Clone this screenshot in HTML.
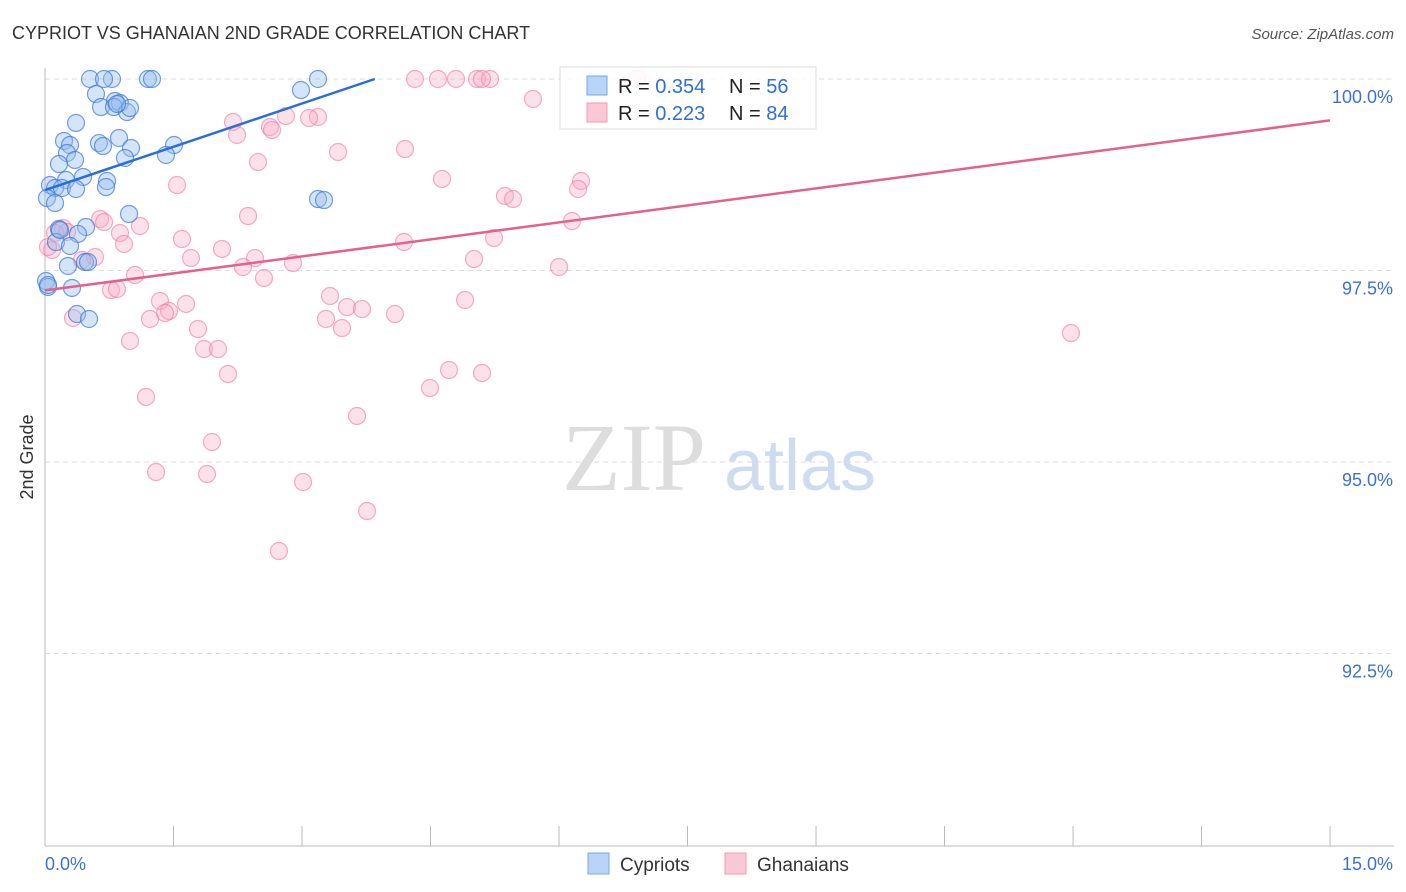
<!DOCTYPE html>
<html><head><meta charset="utf-8"><style>
body{margin:0;background:#fff;font-family:"Liberation Sans",sans-serif}
svg{display:block}
</style></head><body>
<svg id="c" width="1406" height="892">
<text x="12" y="39" font-size="18" fill="#333">CYPRIOT VS GHANAIAN 2ND GRADE CORRELATION CHART</text>
<text x="1394" y="39" font-size="15" fill="#555" font-style="italic" text-anchor="end">Source: ZipAtlas.com</text>
<text x="33" y="457" font-size="18" fill="#333" text-anchor="middle" transform="rotate(-90 33 457)">2nd Grade</text>
<g><text x="634" y="490" font-size="96" fill="#ddd" font-family="Liberation Serif,serif" text-anchor="middle">ZIP</text><text x="800" y="490" font-size="72" fill="#cfdcf0" text-anchor="middle">atlas</text></g>
<g id="grid"></g><g id="pts"></g><g id="lines"></g>
<g>
<rect x="560" y="67" width="256" height="62" fill="rgba(255,255,255,0.85)" stroke="#ddd"/>
<rect x="587" y="76" width="20" height="19" fill="#b8d4f6" stroke="#7aa8e6"/>
<rect x="587" y="103" width="20" height="19" fill="#fbc8d8" stroke="#f09ab6"/>
<text x="618" y="93" font-size="20" fill="#222">R = <tspan fill="#2f6fd6">0.354</tspan></text><text x="729" y="93" font-size="20" fill="#222">N = <tspan fill="#2f6fd6">56</tspan></text>
<text x="618" y="120" font-size="20" fill="#222">R = <tspan fill="#2f6fd6"> 0.223</tspan></text><text x="729" y="120" font-size="20" fill="#222">N = <tspan fill="#2f6fd6">84</tspan></text>
</g>
<g>
<rect x="588" y="853" width="21" height="21" fill="#b8d4f6" stroke="#7aa8e6"/><text x="620" y="871" font-size="19" fill="#333">Cypriots</text>
<rect x="725" y="853" width="21" height="21" fill="#fbc8d8" stroke="#f09ab6"/><text x="757" y="871" font-size="19" fill="#333">Ghanaians</text>
</g>
</svg>
<script>
const xTicks=[0,1.5,3,4.5,6,7.5,9,10.5,12,13.5,15];
const yTicks=[100,97.5,95,92.5];
const yTickLabels=["100.0%","97.5%","95.0%","92.5%"];
const bluePx=[[90,79],[112,79],[104,79],[148,79],[152,79],[318,79],[96,94],[301,90],[115,101],[120,103],[101,107],[114,107],[127,112],[130,108],[76,123],[64,141],[70,145],[99,143],[119,138],[103,146],[131,148],[67,153],[174,145],[166,155],[75,160],[125,158],[59,164],[83,177],[66,180],[107,181],[50,185],[55,188],[62,188],[76,189],[106,187],[47,198],[55,203],[129,214],[318,199],[324,200],[59,229],[86,227],[78,234],[56,242],[70,246],[68,266],[85,262],[88,262],[46,281],[48,287],[72,288],[77,314],[89,319],[48,285],[60,230],[117,104]];
const pinkPx=[[415,79],[438,79],[456,79],[477,79],[490,79],[482,79],[637,79],[533,99],[233,122],[270,127],[318,117],[309,118],[237,135],[272,130],[286,116],[338,152],[405,149],[258,162],[177,185],[442,179],[581,181],[578,189],[505,196],[513,199],[248,216],[572,221],[100,219],[104,222],[140,226],[120,233],[63,228],[55,233],[67,232],[182,239],[404,242],[494,238],[124,244],[222,249],[191,258],[255,258],[95,257],[82,260],[293,263],[474,259],[559,267],[243,267],[135,275],[264,278],[111,290],[117,289],[330,296],[160,301],[186,304],[465,300],[169,311],[165,313],[347,307],[362,309],[395,314],[150,319],[73,318],[326,319],[342,328],[198,329],[1071,333],[130,341],[204,349],[218,349],[228,374],[449,370],[482,373],[430,388],[146,397],[357,416],[212,442],[156,472],[207,474],[303,482],[367,511],[279,551],[52,250],[48,247]];
// convert reference pixel readings into data values
const cypX=bluePx.map(p=>+((p[0]-45)/85.67).toFixed(3));
const cypY=bluePx.map(p=>+(100-(p[1]-79)/76.6).toFixed(3));
const ghaX=pinkPx.map(p=>+((p[0]-45)/85.67).toFixed(3));
const ghaY=pinkPx.map(p=>+(100-(p[1]-79)/76.6).toFixed(3));
const cypTrend=[[0,98.55],[3.85,100]];
const ghaTrend=[[0,97.24],[15,99.46]];
const X=v=>45+v*85.67, Y=v=>79+(100-v)*76.6;
const NS="http://www.w3.org/2000/svg";
function mk(parent,tag,attrs){const e=document.createElementNS(NS,tag);for(const k in attrs)e.setAttribute(k,attrs[k]);document.getElementById(parent).appendChild(e);return e;}
yTicks.forEach((t,i)=>{
 const g=mk('grid','line',{x1:45,x2:1394,y1:Y(t),y2:Y(t),stroke:'#ddd','stroke-dasharray':'5,4'});
 
 
 const l=mk('grid','text',{x:1393,y:Y(t)+24,'font-size':18,fill:'#3a72d4','text-anchor':'end'});l.textContent=yTickLabels[i];
 
 
});
const ax=mk('grid','line',{x1:45,x2:45,y1:68,y2:846,stroke:'#bbb'});


const bx=mk('grid','line',{x1:45,x2:1394,y1:846,y2:846,stroke:'#bbb'});


xTicks.forEach(t=>{const k=mk('grid','line',{x1:X(t),x2:X(t),y1:826,y2:846,stroke:'#bbb'});
 
 });
const xl0=mk('grid','text',{x:45,y:870,'font-size':18,fill:'#3a72d4'});xl0.textContent=xTicks[0].toFixed(1)+'%';


const xl1=mk('grid','text',{x:1393,y:870,'font-size':18,fill:'#3a72d4','text-anchor':'end'});xl1.textContent=xTicks[xTicks.length-1].toFixed(1)+'%';


ghaX.forEach((x,i)=>{const c=mk('pts','circle',{cx:X(x),cy:Y(ghaY[i]),r:8.5,fill:'rgba(248,170,196,0.35)',stroke:'rgba(236,120,160,0.6)','stroke-width':1.2});
 
 });
cypX.forEach((x,i)=>{const c=mk('pts','circle',{cx:X(x),cy:Y(cypY[i]),r:8.5,fill:'rgba(150,190,240,0.4)',stroke:'rgba(60,120,210,0.7)','stroke-width':1.2});
 
 });
const lb=mk('lines','line',{x1:X(cypTrend[0][0]),y1:Y(cypTrend[0][1]),x2:X(cypTrend[1][0]),y2:Y(cypTrend[1][1]),stroke:'#2a6fd8','stroke-width':2.5});


const lp=mk('lines','line',{x1:X(ghaTrend[0][0]),y1:Y(ghaTrend[0][1]),x2:X(ghaTrend[1][0]),y2:Y(ghaTrend[1][1]),stroke:'#e4608e','stroke-width':2.5});


</script>
</body></html>
